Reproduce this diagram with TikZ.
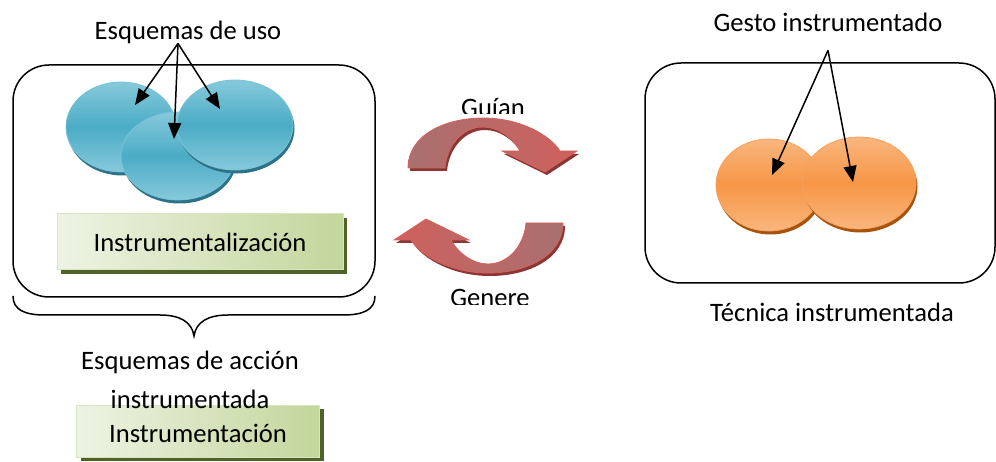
\documentclass[tikz,border=0pt]{standalone}
\usepackage{fontspec}
\setmainfont{Carlito}
\usetikzlibrary{shapes.geometric, arrows.meta, shadows}

\definecolor{azulMedio}{HTML}{4BACC6}
\definecolor{azulClaro}{HTML}{86C9DB}
\definecolor{azulBorde}{HTML}{7CC3D6}
\definecolor{azulSombra}{HTML}{2C7288}
\definecolor{naranjaMedio}{HTML}{F79646}
\definecolor{naranjaClaro}{HTML}{F9B67E}
\definecolor{naranjaBorde}{HTML}{F5A25E}
\definecolor{naranjaSombra}{HTML}{A8530C}
\definecolor{verdeClaro}{HTML}{EEF3E4}
\definecolor{verdeOscuro}{HTML}{C3D69B}
\definecolor{verdeBorde}{HTML}{D7E4BD}
\definecolor{verdeSombra}{HTML}{4F6228}
\definecolor{rojoVivo}{HTML}{D0605C}
\definecolor{rojoApagado}{HTML}{A87070}
\definecolor{rojoBorde}{HTML}{D2625E}
\definecolor{rojoSombra}{HTML}{8A3634}

\begin{document}
\begin{tikzpicture}[
    x=1pt, y=-1pt,
    font=\fontsize{26.6pt}{32pt}\selectfont,
    texto/.style={inner sep=1pt, anchor=base},
    marco/.style={draw, rectangle, line width=1.5pt, rounded corners=36pt},
    elipseAzul/.style={ellipse, inner sep=0pt, top color=azulClaro, bottom color=azulClaro, middle color=azulMedio, draw=azulBorde, line width=0.8pt, drop shadow={shadow xshift=1.5pt, shadow yshift=-3.5pt, fill=azulSombra, opacity=1}},
    elipseNaranja/.style={ellipse, inner sep=0pt, top color=naranjaClaro, bottom color=naranjaClaro, middle color=naranjaMedio, draw=naranjaBorde, line width=0.8pt, drop shadow={shadow xshift=1.5pt, shadow yshift=-3.5pt, fill=naranjaSombra, opacity=1}},
    cajaVerde/.style={draw=verdeBorde, rectangle, line width=1pt, left color=verdeClaro, right color=verdeOscuro, drop shadow={shadow xshift=4pt, shadow yshift=-4pt, fill=verdeSombra, opacity=1}},
    flechaNegra/.style={-{Triangle[length=16pt,width=13pt]}, line width=1.5pt},
    flechaForma/.style={insert path={(-77.5,-27.5) .. controls (-77.5,-60.5) and (-40.5,-77.5) .. (-2.5,-77.5) .. controls (34.5,-77.5) and (64.5,-60.5) .. (74.5,-44.5) -- (91.5,-44.5) -- (59.5,-23.5) -- (16.5,-44.5) -- (34.5,-44.5) .. controls (26.5,-58.5) and (12.5,-68.5) .. (-2.5,-68.5) .. controls (-22.5,-68.5) and (-38.5,-50.5) .. (-40.5,-27.5) -- cycle}},
    pics/flecha/.style n args={4}{code={
        \fill[rojoSombra, shift={(#3,#4)}, flechaForma];
        \path[left color=#1, right color=#2, draw=rojoBorde, line width=0.8pt, flechaForma];
    }}
]
\useasboundingbox (0,0) rectangle (996,462);

% Marcos
\node (marcoIzq) [marco, minimum width=362pt, minimum height=232pt] at (194,181) {};
\node (marcoDer) [marco, minimum width=350pt, minimum height=220pt] at (820,173) {};

% Esquemas de uso
\node (eA) [elipseAzul, minimum width=110pt, minimum height=90pt] at (121,127) {};
\node (eB) [elipseAzul, minimum width=114pt, minimum height=88pt] at (178,156) {};
\node (eC) [elipseAzul, minimum width=116pt, minimum height=90pt] at (235,125) {};
\node (usoLbl) [texto] at (188,40) {Esquemas de uso};
\coordinate (tA) at (135,105);
\coordinate (tB) at (174,139);
\coordinate (tC) at (220,109);
\draw [flechaNegra] ([xshift=-10pt,yshift=2pt]usoLbl.south) -- (tA);
\draw [flechaNegra] ([xshift=-10pt,yshift=2pt]usoLbl.south) -- (tB);
\draw [flechaNegra] ([xshift=-10pt,yshift=2pt]usoLbl.south) -- (tC);

\node (instrumentalizacion) [cajaVerde, minimum width=286pt, minimum height=56pt] at (200,242) {Instrumentalización};

% Llave
\draw [line width=1.5pt] (13,296) .. controls (13,310) and (25,315) .. (45,315) -- (160,315) .. controls (180,315) and (192,322) .. (194,336) .. controls (196,322) and (208,315) .. (228,315) -- (343,315) .. controls (363,315) and (375,310) .. (375,296);

\node (instrumentacion) [cajaVerde, minimum width=243pt, minimum height=52pt] at (198,431) {};
\node (accionLbl) [texto] at (190,370) {Esquemas de acción};
\node (instrumentadaLbl) [texto] at (190,408) {instrumentada};
\node (instrumentacionLbl) [texto] at (198,442) {Instrumentación};

% Flechas circulares
\begin{scope}
\clip (400,80) rectangle (600,114);
\node (guianLbl) [texto] at (493,117) {Guían};
\end{scope}
\begin{scope}
\clip (400,280) rectangle (600,305);
\node (genereLbl) [texto] at (490,307) {Genere};
\end{scope}
\pic at (485.5,195.5) {flecha={rojoApagado}{rojoVivo}{2}{3}};
\pic[rotate=180] at (485.5,195.5) {flecha={rojoVivo}{rojoApagado}{-2}{-3}};

% Gesto instrumentado
\node (oA) [elipseNaranja, minimum width=106pt, minimum height=92pt] at (769,185) {};
\node (oB) [elipseNaranja, minimum width=114pt, minimum height=92pt] at (859,183) {};
\node (gestoLbl) [texto] at (828,32) {Gesto instrumentado};
\coordinate (tD) at (772,175);
\coordinate (tE) at (853,182);
\draw [flechaNegra] ([yshift=-17pt]gestoLbl.south) -- (tD);
\draw [flechaNegra] ([yshift=-17pt]gestoLbl.south) -- (tE);

\node (tecnicaLbl) [texto] at (832,322) {Técnica instrumentada};

\end{tikzpicture}
\end{document}
